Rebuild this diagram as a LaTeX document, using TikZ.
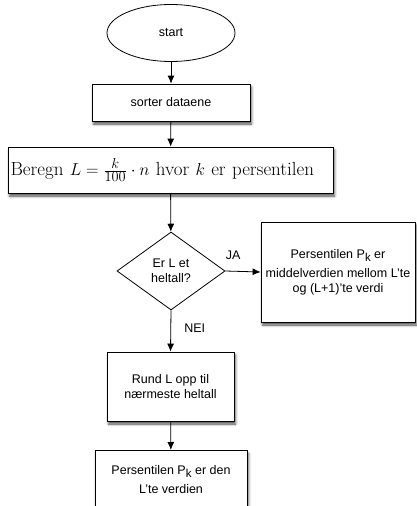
\documentclass[tikz,border=0pt]{standalone}
\usepackage{fontspec}
\setsansfont{Liberation Sans}
\usetikzlibrary{shapes.geometric,arrows.meta,shadows.blur}

\newcommand{\indk}{\raisebox{-3pt}{\fontsize{11.5}{13}\selectfont k}}

\tikzset{
  tekst/.style={font=\sffamily\fontsize{12.5}{15}\selectfont, align=center},
  prosess/.style={tekst, draw, fill=white, line width=0.8pt, inner sep=4pt,
    blur shadow={shadow xshift=1.5pt, shadow yshift=-3pt, shadow blur radius=2.5pt, shadow opacity=70}},
  startslutt/.style={tekst, ellipse, draw, fill=white, line width=0.8pt,
    minimum width=128pt, minimum height=57pt, inner sep=0pt},
  valg/.style={tekst, diamond, draw, fill=white, line width=0.8pt,
    minimum width=108pt, minimum height=78pt, inner sep=0pt, shape aspect=1.38},
  pil/.style={-{Latex[length=8pt,width=7pt]}, line width=0.8pt}
}

\begin{document}
\begin{tikzpicture}[x=1pt,y=-1pt]
  \useasboundingbox (0,0) rectangle (417,506);
  \clip (0,0) rectangle (417,506);

  \node[startslutt] (start) at (171,33) {start};
  \node[prosess, minimum width=158pt, minimum height=37pt] (sorter) at (171,102.5) {sorter dataene};
  \node[prosess, text width=320pt, minimum height=46pt, inner xsep=2.5pt, align=left,
        font=\fontsize{19}{22}\selectfont] (beregn) at (170.5,170)
        {Beregn $L=\frac{k}{100}\cdot n$ hvor $k$ er persentilen};
  \node[valg] (heltall) at (171,271) {Er L et\\heltall?};
  \node[prosess, minimum width=154pt, minimum height=100pt] (middel) at (338,272)
        {Persentilen P\indk{} er\\[4pt]middelverdien mellom L'te\\og (L+1)'te verdi};
  \node[prosess, minimum width=127pt, minimum height=69pt] (rund) at (170.5,386.5)
        {Rund L opp til\\nærmeste heltall};
  \node[prosess, minimum width=152pt, minimum height=58pt, anchor=north] (lte) at (171,450)
        {Persentilen P\indk{} er den\\[4pt]L'te verdien};

  \draw[pil] (start) -- (sorter);
  \draw[pil] (sorter) -- (beregn);
  \draw[pil] (beregn) -- (heltall);
  \draw[pil] (heltall.east) -- node[tekst, pos=0.22, yshift=16pt] {JA} (middel.west);
  \draw[pil] (heltall.south) -- node[tekst, pos=0.43, xshift=24pt] {NEI} (rund.north);
  \draw[pil] (rund) -- (lte);
\end{tikzpicture}
\end{document}
